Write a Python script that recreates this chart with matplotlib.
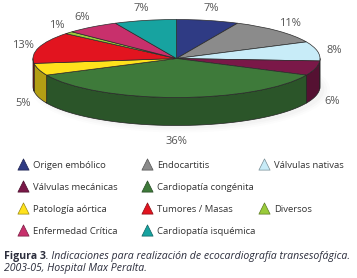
import numpy as np
import matplotlib
matplotlib.use('Agg')
import matplotlib.pyplot as plt
from matplotlib.colors import to_rgb
from matplotlib.patches import Ellipse

# slices, clockwise from 12 o'clock
labels = ["Origen embólico", "Endocartitis", "Válvulas nativas", "Válvulas mecánicas",
          "Cardiopatía congénita", "Patología aórtica", "Tumores / Masas", "Diversos",
          "Enfermedad Crítica", "Cardiopatía isquémica"]
values = [7, 11, 8, 6, 36, 5, 13, 1, 6, 7]
colors = ["#2f3b84", "#8b8b8b", "#c8ecf8", "#7a1848", "#3e7a3a",
          "#ffe21c", "#e2141f", "#9acb3a", "#c8306c", "#17a3a0"]
# legend grid (row, col) as laid out in the figure
legend_slots = [(0, 0), (0, 1), (0, 2), (1, 0), (1, 1), (2, 0), (2, 1), (2, 2), (3, 0), (3, 1)]

W, H = 357, 278
fig = plt.figure(figsize=(W / 100, H / 100), dpi=100)
fig.patch.set_facecolor("white")

# pie axes: unit circle is mapped onto a flat ellipse (fake 3D)
cx, cy, rx, ry = 176.5, 58.5, 143.5, 39.0
ax = fig.add_axes([0, 0, 1, 1])
depth = 28 / ry


def darker(c, f):
    r, g, b = to_rgb(c)
    return (r * f, g * f, b * f)


# soft shadow under the pie
for k, a in enumerate([0.025, 0.03, 0.04]):
    ax.add_patch(Ellipse((0.03, -depth - 0.08), 2.08 - k * 0.04, 2.2 - k * 0.1,
                         color="#888888", alpha=a, lw=0))

# side walls: only the front half (angles 180..360) is visible
total = sum(values)
bounds = 90 - 360 * np.concatenate([[0], np.cumsum(values)]) / total
for i, col in enumerate(colors):
    a0, a1 = bounds[i + 1], bounds[i]  # a0 < a1
    lo, hi = np.mod(a0, 360), np.mod(a0, 360) + (a1 - a0)
    for off in (0, -360, 360):
        s, e = max(lo + off, 180), min(hi + off, 360)
        if e <= s:
            continue
        t = np.deg2rad(np.linspace(s, e, 60))
        xs = np.concatenate([np.cos(t), np.cos(t[::-1])])
        ys = np.concatenate([np.sin(t), np.sin(t[::-1]) - depth])
        ax.fill(xs, ys, color=darker(col, 0.7), lw=0.5, ec="#222222", joinstyle="round")

# top face
ax.pie(values, colors=colors, startangle=90, counterclock=False,
       center=(0, 0), radius=1, wedgeprops=dict(linewidth=0.5, edgecolor="#2a2a2a"))

# percentage labels outside the rim
for i, v in enumerate(values):
    mid = np.deg2rad((bounds[i] + bounds[i + 1]) / 2)
    px, py = np.cos(mid), np.sin(mid)
    yy = py - depth if py < 0 else py
    ax.annotate(f"{v}%", (px, yy), xytext=(px * 12, py * 10 - 1.5), textcoords="offset points",
                ha="center", va="center", fontsize=8, color="#555555", family="Open Sans")

ax.set_aspect("auto")
ax.set_xlim(-cx / rx, (W - cx) / rx)
ax.set_ylim((cy - H) / ry, cy / ry)
ax.axis("off")

# legend with triangle markers
lax = fig.add_axes([0, 0, 1, 1])
lax.set_xlim(0, W)
lax.set_ylim(H, 0)
lax.axis("off")
col_x = [23, 147, 264]
row_y = [165, 187, 209, 231]
for lab, col, (r, c) in zip(labels, colors, legend_slots):
    lax.scatter([col_x[c]], [row_y[r] - 1], marker="^", s=65, color=col,
                edgecolors=darker(col, 0.6), linewidths=0.5)
    lax.text(col_x[c] + 10, row_y[r], lab, ha="left", va="center", fontsize=6.8,
             color="#333333", family="Open Sans")

# caption
cap_col = "#2b2d3c"
t1 = lax.text(4, 256, "Figura 3", ha="left", va="center", fontsize=7.6,
              fontweight="bold", color=cap_col, family="Open Sans")
fig.canvas.draw()
x_end = t1.get_window_extent().x1
lax.text(x_end, 256, ". Indicaciones para realización de ecocardiografía transesofágica.",
         ha="left", va="center", fontsize=7.6, style="italic", color=cap_col, family="Open Sans")
lax.text(4, 268, "2003-05, Hospital Max Peralta.", ha="left", va="center", fontsize=7.6,
         style="italic", color=cap_col, family="Open Sans")

fig.savefig("out.png", dpi=100)
